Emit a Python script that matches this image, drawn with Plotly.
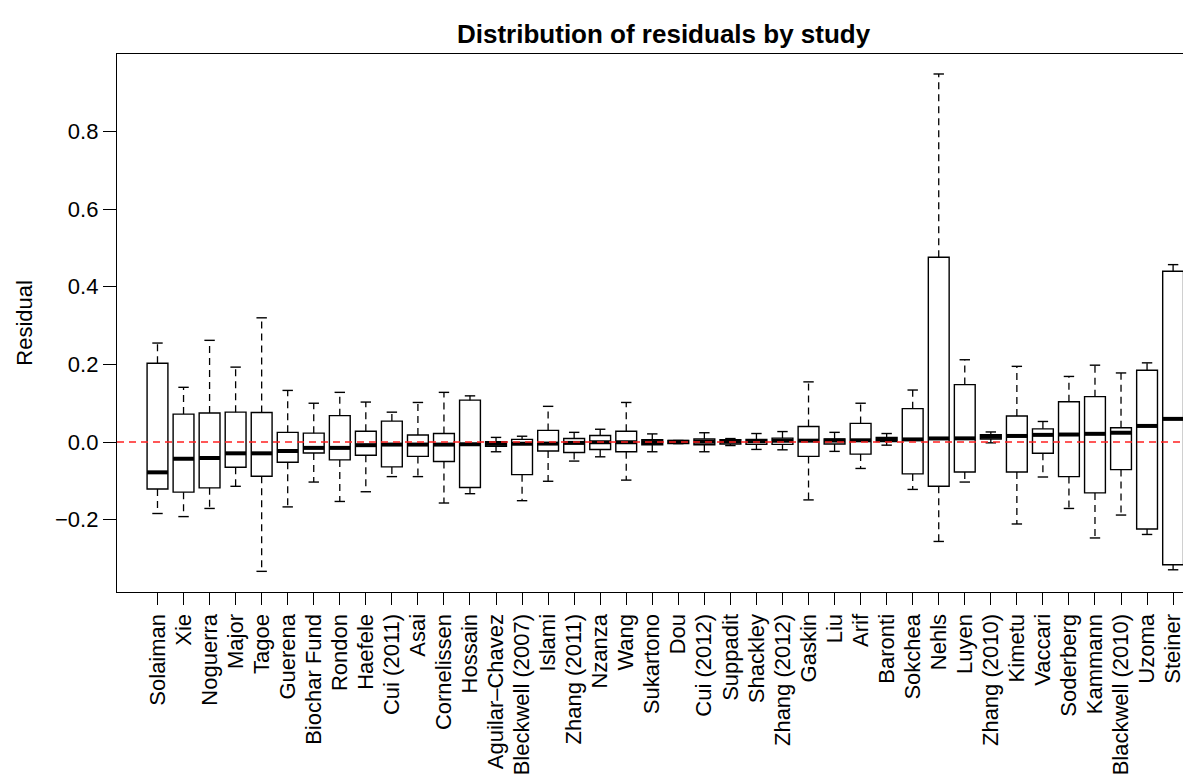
import plotly.graph_objects as go

# Studies, ordered by median residual
studies = ["Solaiman", "Xie", "Noguerra", "Major", "Tagoe", "Guerena", "Biochar Fund",
           "Rondon", "Haefele", "Cui (2011)", "Asai", "Cornelissen", "Hossain",
           "Aguilar\u2013Chavez", "Bleckwell (2007)", "Islami", "Zhang (2011)", "Nzanza",
           "Wang", "Sukartono", "Dou", "Cui (2012)", "Suppadit", "Shackley",
           "Zhang (2012)", "Gaskin", "Liu", "Arif", "Baronti", "Sokchea", "Nehls",
           "Luyen", "Zhang (2010)", "Kimetu", "Vaccari", "Soderberg", "Kammann",
           "Blackwell (2010)", "Uzoma", "Steiner"]

upper_whisker = [0.255, 0.141, 0.262, 0.193, 0.320, 0.133, 0.100, 0.128, 0.103, 0.077,
                 0.102, 0.128, 0.119, 0.012, 0.015, 0.092, 0.025, 0.033, 0.102, 0.021,
                 0.004, 0.024, 0.009, 0.022, 0.027, 0.155, 0.025, 0.100, 0.022, 0.134,
                 0.948, 0.212, 0.026, 0.195, 0.053, 0.169, 0.198, 0.178, 0.204, 0.457]
q3 = [0.203, 0.072, 0.075, 0.077, 0.076, 0.025, 0.023, 0.068, 0.028, 0.054,
      0.018, 0.022, 0.108, 0.001, 0.007, 0.030, 0.009, 0.017, 0.028, 0.006,
      0.004, 0.008, 0.006, 0.007, 0.010, 0.040, 0.008, 0.048, 0.012, 0.086,
      0.476, 0.148, 0.019, 0.067, 0.034, 0.104, 0.117, 0.037, 0.185, 0.440]
median = [-0.078, -0.043, -0.041, -0.029, -0.029, -0.023, -0.015, -0.015, -0.008, -0.0065,
          -0.0065, -0.0065, -0.0057, -0.0048, -0.0043, -0.0039, -0.0022, -0.0005, -0.0005, 0.0,
          0.0005, 0.0008, 0.0017, 0.002, 0.0034, 0.0036, 0.0038, 0.0045, 0.0065, 0.0068,
          0.0093, 0.0095, 0.0139, 0.0157, 0.0185, 0.0194, 0.0212, 0.024, 0.0415, 0.0597]
q1 = [-0.121, -0.129, -0.118, -0.065, -0.088, -0.052, -0.028, -0.046, -0.034, -0.064,
      -0.037, -0.050, -0.117, -0.011, -0.084, -0.023, -0.027, -0.019, -0.025, -0.007,
      -0.004, -0.007, -0.005, -0.006, -0.006, -0.037, -0.005, -0.031, 0.001, -0.082,
      -0.114, -0.077, 0.008, -0.077, -0.029, -0.089, -0.131, -0.071, -0.224, -0.316]
lower_whisker = [-0.184, -0.192, -0.171, -0.114, -0.333, -0.167, -0.103, -0.153, -0.128, -0.089,
                 -0.089, -0.157, -0.133, -0.025, -0.151, -0.101, -0.049, -0.038, -0.098, -0.025,
                 -0.004, -0.025, -0.009, -0.019, -0.020, -0.149, -0.024, -0.068, -0.008, -0.122,
                 -0.256, -0.103, -0.002, -0.211, -0.090, -0.171, -0.247, -0.188, -0.238, -0.329]

y_ticks = [-0.2, 0.0, 0.2, 0.4, 0.6, 0.8]

FONT = "Liberation Sans, Arial, Helvetica, sans-serif"
BOX_W = 0.8
STAPLE_W = 0.4

pos = list(range(1, len(studies) + 1))

fig = go.Figure()

# Box bodies (interquartile range)
fig.add_trace(go.Box(
    x=pos, q1=q1, median=median, q3=q3,
    lowerfence=q1, upperfence=q3,
    width=BOX_W, fillcolor="white", boxpoints=False,
    line=dict(color="black", width=1.4),
    hoverinfo="skip", showlegend=False,
))

# Dashed whiskers, staples and thick medians
wx, wy, sx, sy, mx, my = [], [], [], [], [], []
for p, lo, a, m, b, hi in zip(pos, lower_whisker, q1, median, q3, upper_whisker):
    wx += [p, p, None, p, p, None]
    wy += [b, hi, None, a, lo, None]
    sx += [p - STAPLE_W / 2, p + STAPLE_W / 2, None, p - STAPLE_W / 2, p + STAPLE_W / 2, None]
    sy += [hi, hi, None, lo, lo, None]
    mx += [p - BOX_W / 2, p + BOX_W / 2, None]
    my += [m, m, None]

fig.add_trace(go.Scatter(x=wx, y=wy, mode="lines",
                         line=dict(color="black", width=1.3, dash="7px,5px"),
                         hoverinfo="skip", showlegend=False))
fig.add_trace(go.Scatter(x=sx, y=sy, mode="lines",
                         line=dict(color="black", width=1.4),
                         hoverinfo="skip", showlegend=False))
fig.add_trace(go.Scatter(x=mx, y=my, mode="lines",
                         line=dict(color="black", width=4),
                         hoverinfo="skip", showlegend=False))

# Reference line at zero residual
fig.add_shape(type="line", xref="paper", x0=0, x1=1, yref="y", y0=0, y1=0,
              line=dict(color="#ff2020", width=1.5, dash="7px,5px"), layer="above")

fig.update_layout(
    width=1183, height=781,
    margin=dict(l=117, r=0, t=54, b=189),
    paper_bgcolor="white", plot_bgcolor="white",
    font=dict(family=FONT, size=22, color="black"),
    showlegend=False,
    xaxis=dict(
        range=[-0.555, 40.38],
        tickmode="array", tickvals=pos, ticktext=studies,
        tickangle=-90, ticks="outside", ticklen=12, tickwidth=1.2, tickcolor="black",
        showline=True, linecolor="black", linewidth=1.3, mirror=True,
        showgrid=False, zeroline=False, automargin=False,
        ticklabeloverflow="allow",
        tickfont=dict(family=FONT, size=22, color="black"),
    ),
    yaxis=dict(
        range=[-0.3862, 0.9995],
        tickmode="array", tickvals=y_ticks,
        ticktext=[f"{v:.1f}".replace("-", "\u2212") for v in y_ticks],
        ticks="outside", ticklen=13, tickwidth=1.2, tickcolor="black",
        showline=True, linecolor="black", linewidth=1.3, mirror=False,
        showgrid=False, zeroline=False, automargin=False,
        tickfont=dict(family=FONT, size=22, color="black"),
    ),
    annotations=[
        dict(text="<b>Distribution of residuals by study</b>",
             xref="paper", yref="paper", x=0.513, y=1.038,
             xanchor="center", yanchor="middle", showarrow=False,
             font=dict(family=FONT, size=26, color="black")),
        dict(text="Residual", textangle=-90,
             xref="paper", yref="paper", x=-0.0875, y=0.5,
             xanchor="center", yanchor="middle", showarrow=False,
             font=dict(family=FONT, size=22, color="black")),
    ],
)

fig.write_html("out.html")
